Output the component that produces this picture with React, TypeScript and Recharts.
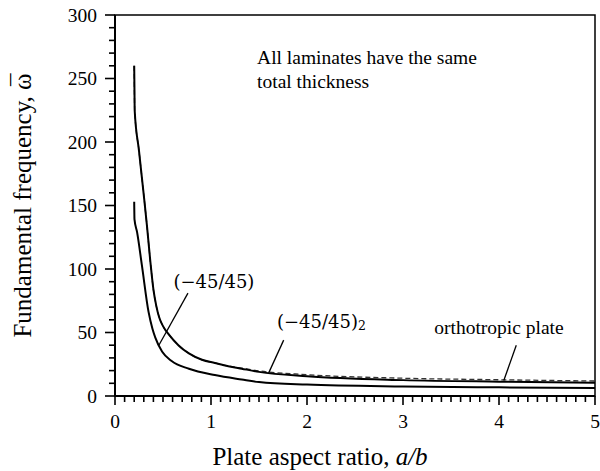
import { LineChart, Line, XAxis, YAxis, ReferenceArea, ReferenceLine, ReferenceDot } from 'recharts'

// (-45/45) laminate
const lamX = [0.2, 0.203, 0.23, 0.28, 0.35, 0.39, 0.42, 0.49, 0.59, 0.77, 1.04, 1.32, 1.5, 2, 3, 4, 5]
const lamW = [153, 139, 129, 103, 66, 53, 46, 35, 27.5, 21.5, 16.5, 13, 11, 9, 7.5, 6.8, 6.3]

// (-45/45)_2 laminate
const lam2X = [0.2, 0.205, 0.25, 0.3, 0.333, 0.368, 0.4, 0.43, 0.46, 0.5, 0.56, 0.66, 0.77, 0.906, 1.04, 1.18, 1.32, 1.5, 2, 3, 4, 5]
const lam2W = [260, 225, 193, 158, 134, 106, 84, 71, 62, 55, 48.5, 40, 33.5, 28.5, 26, 23.5, 21.5, 19, 15.5, 12.5, 11.3, 10.5]

// orthotropic plate (dashed)
const orthoX = [0.2, 0.205, 0.25, 0.3, 0.333, 0.368, 0.4, 0.43, 0.46, 0.5, 0.56, 0.66, 0.77, 0.906, 1.04, 1.18, 1.32, 1.5, 2, 3, 4, 5]
const orthoW = [260, 225, 193, 158, 134, 106, 84, 71, 62, 55, 48.5, 40, 33.5, 28.5, 26, 23.5, 22, 19.8, 16.8, 14, 12.8, 11.8]

const xLabels = [0, 1, 2, 3, 4, 5]
const yLabels = [0, 50, 100, 150, 200, 250, 300]
const xTicks = Array.from({ length: 51 }, (_, i) => i / 10)
const yTicks = Array.from({ length: 31 }, (_, i) => i * 10)

const pts = (xs: number[], ws: number[]) => xs.map((a, i) => ({ a, w: ws[i] }))

const serif = '"Liberation Serif", "Times New Roman", serif'
const math = '"DejaVu Serif", serif'

const centerOf = (vb: any) => ({ cx: vb.x + (vb.width || 0) / 2, cy: vb.y + (vb.height || 0) / 2 })

// tickSize is 8, so the axis line sits 8px before the point recharts hands us
function XTick(props: any) {
  const { x, y, payload } = props
  const major = xLabels.includes(payload.value)
  return (
    <g>
      <line x1={x} x2={x} y1={y - 8} y2={y + (major ? 1 : -2)} stroke="#000" strokeWidth={1.6} />
      {major && (
        <text x={x} y={y + 24} textAnchor="middle" style={{ fontFamily: serif }} fontSize={19.5} fill="#000">
          {payload.value}
        </text>
      )}
    </g>
  )
}

function YTick(props: any) {
  const { x, y, payload } = props
  const major = yLabels.includes(payload.value)
  return (
    <g>
      <line x1={x + (major ? -2 : 2)} x2={x + 8} y1={y} y2={y} stroke="#000" strokeWidth={1.6} />
      {major && (
        <text x={x - 10} y={y} textAnchor="end" dominantBaseline="central" style={{ fontFamily: serif }} fontSize={19.5} fill="#000">
          {payload.value}
        </text>
      )}
    </g>
  )
}

export default function App() {
  return (
    <div style={{ position: 'absolute', left: 0, top: 0, background: '#fff' }}>
      <LineChart width={600} height={471} margin={{ top: 15, right: 5, left: 55, bottom: 45 }}>
        <XAxis
          type="number"
          dataKey="a"
          domain={[0, 5]}
          ticks={xTicks}
          interval={0}
          allowDataOverflow
          height={30}
          stroke="#000"
          strokeWidth={2}
          tickSize={8}
          tickMargin={0}
          tickLine={false}
          tick={<XTick />}
          label={{
            content: () => (
              <text x={320} y={465} textAnchor="middle" style={{ fontFamily: serif }} fontSize={25} fill="#000">
                Plate aspect ratio, <tspan fontStyle="italic">a/b</tspan>
              </text>
            ),
          }}
        />
        <YAxis
          type="number"
          domain={[0, 300]}
          ticks={yTicks}
          interval={0}
          width={60}
          stroke="#000"
          strokeWidth={2}
          tickSize={8}
          tickMargin={0}
          tickLine={false}
          tick={<YTick />}
          label={{
            content: (p: any) => {
              const { cy } = centerOf(p.viewBox)
              const x = 22
              return (
                <text
                  x={x}
                  y={cy}
                  transform={`rotate(-90, ${x}, ${cy})`}
                  textAnchor="middle"
                  dominantBaseline="central"
                  style={{ fontFamily: serif }}
                  fontSize={25}
                  fill="#000"
                >
                  Fundamental frequency, ω<tspan dx={-12.5} dy={-2}>¯</tspan>
                </text>
              )
            },
          }}
        />

        <ReferenceArea x1={0} x2={5} y1={0} y2={300} fill="none" stroke="#000" strokeWidth={1.5} ifOverflow="visible" />

        <Line data={pts(orthoX, orthoW)} dataKey="w" type="monotone" stroke="#333" strokeWidth={1.3} strokeDasharray="5 3" dot={false} isAnimationActive={false} />
        <Line data={pts(lamX, lamW)} dataKey="w" type="monotone" stroke="#000" strokeWidth={2} dot={false} isAnimationActive={false} />
        <Line data={pts(lam2X, lam2W)} dataKey="w" type="monotone" stroke="#000" strokeWidth={2} dot={false} isAnimationActive={false} />

        {/* leader lines */}
        <ReferenceLine segment={[{ x: 0.76, y: 81 }, { x: 0.457, y: 40 }]} stroke="#000" strokeWidth={1.3} ifOverflow="visible" />
        <ReferenceLine segment={[{ x: 1.757, y: 44 }, { x: 1.6, y: 18 }]} stroke="#000" strokeWidth={1.3} ifOverflow="visible" />
        <ReferenceLine segment={[{ x: 4.18, y: 40 }, { x: 4.05, y: 12.2 }]} stroke="#000" strokeWidth={1.3} ifOverflow="visible" />

        {/* annotations */}
        <ReferenceDot
          x={1.48}
          y={267}
          r={1}
          fill="none"
          stroke="none"
          label={(p: any) => {
            const { cx, cy } = centerOf(p.viewBox)
            return (
              <text x={cx} y={cy} style={{ fontFamily: serif }} fontSize={19.5} fill="#000" dominantBaseline="central">
                <tspan x={cx}>All laminates have the same</tspan>
                <tspan x={cx} dy={24}>total thickness</tspan>
              </text>
            )
          }}
        />
        <ReferenceDot
          x={1.03}
          y={90}
          r={1}
          fill="none"
          stroke="none"
          label={(p: any) => {
            const { cx, cy } = centerOf(p.viewBox)
            return (
              <text x={cx} y={cy} textAnchor="middle" dominantBaseline="central" style={{ fontFamily: math }} fontSize={18} fill="#000">
                (−45/45)
              </text>
            )
          }}
        />
        <ReferenceDot
          x={2.15}
          y={59}
          r={1}
          fill="none"
          stroke="none"
          label={(p: any) => {
            const { cx, cy } = centerOf(p.viewBox)
            return (
              <text x={cx} y={cy} textAnchor="middle" dominantBaseline="central" style={{ fontFamily: math }} fontSize={18} fill="#000">
                (−45/45)<tspan fontSize={12.5} dy={4}>2</tspan>
              </text>
            )
          }}
        />
        <ReferenceDot
          x={4.0}
          y={54}
          r={1}
          fill="none"
          stroke="none"
          label={(p: any) => {
            const { cx, cy } = centerOf(p.viewBox)
            return (
              <text x={cx} y={cy} textAnchor="middle" dominantBaseline="central" style={{ fontFamily: serif }} fontSize={19.5} fill="#000">
                orthotropic plate
              </text>
            )
          }}
        />
      </LineChart>
    </div>
  )
}
